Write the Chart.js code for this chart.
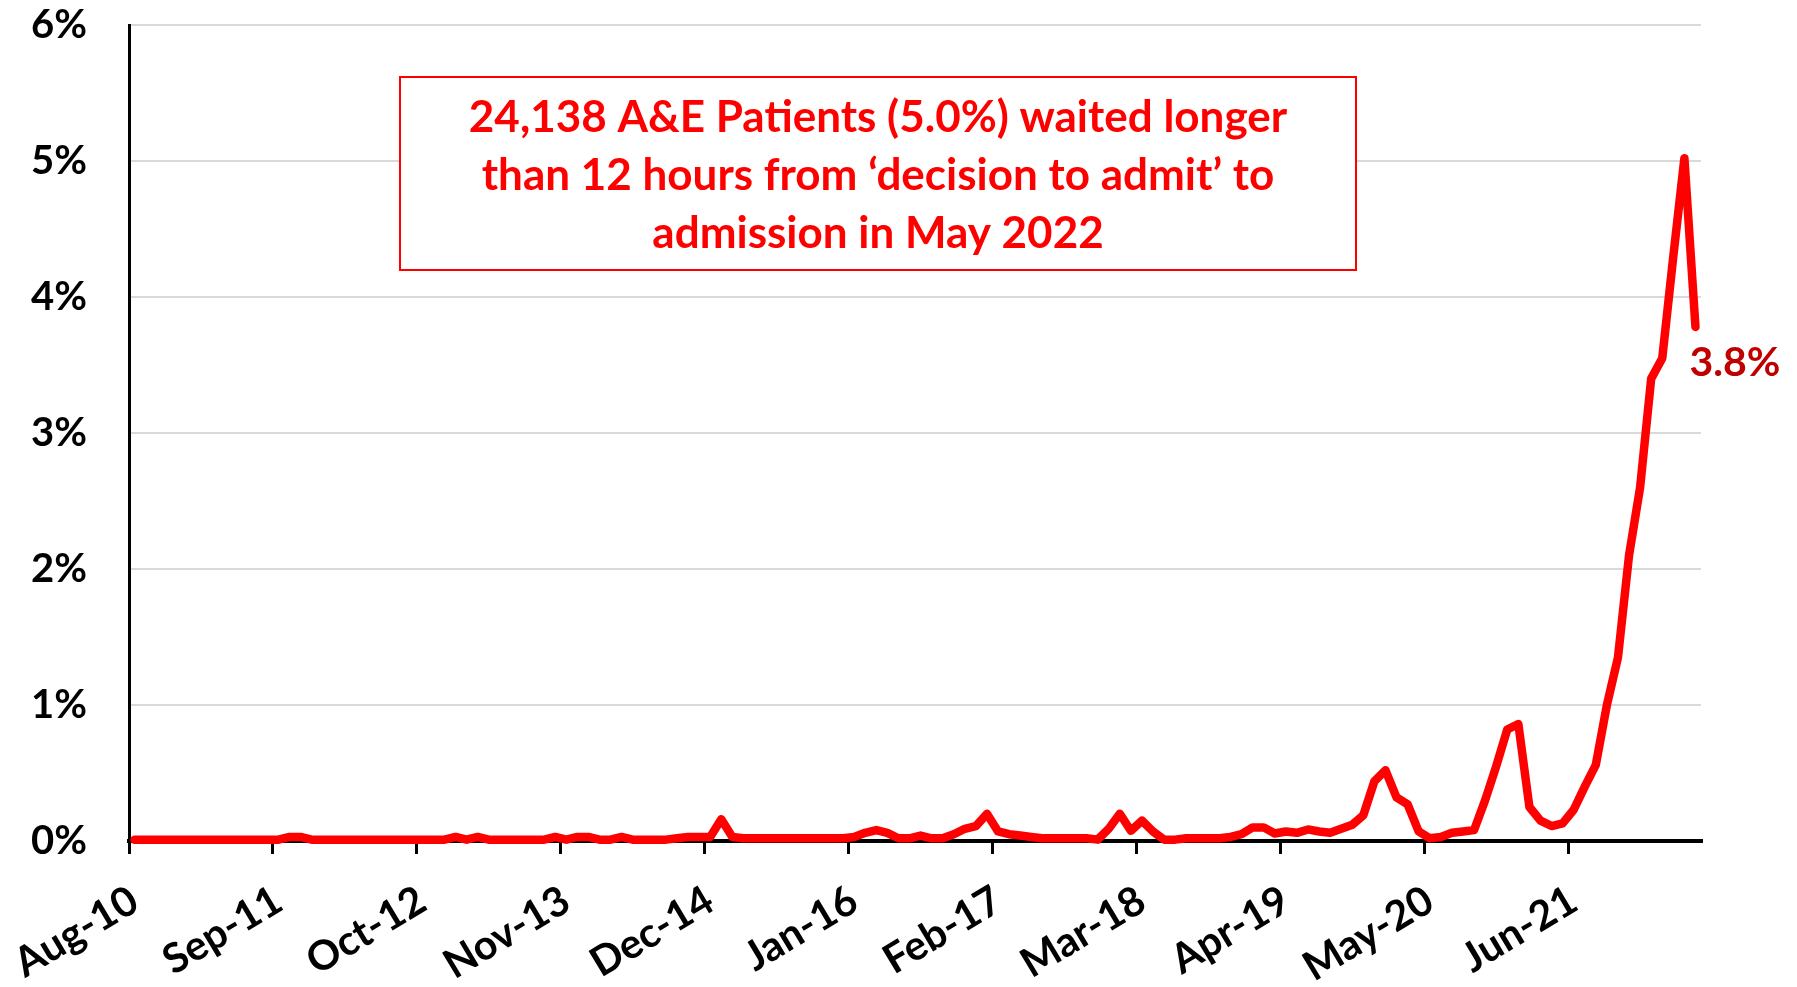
<!DOCTYPE html>
<html>
<head>
<meta charset="utf-8">
<title>12 hour waits from decision to admit</title>
<script src="https://cdn.jsdelivr.net/npm/chart.js@4.4.1/dist/chart.umd.min.js"></script>
<style>
  html, body { margin: 0; padding: 0; background: #fff; }
  canvas { display: block; }
</style>
</head>
<body>
<canvas id="waitChart" width="1797" height="987"></canvas>
<script>
// Months, Aug 2010 to May 2022
const months = [
    'Aug-10', 'Sep-10', 'Oct-10', 'Nov-10', 'Dec-10',
    'Jan-11', 'Feb-11', 'Mar-11', 'Apr-11', 'May-11', 'Jun-11', 'Jul-11', 'Aug-11', 'Sep-11', 'Oct-11', 'Nov-11', 'Dec-11',
    'Jan-12', 'Feb-12', 'Mar-12', 'Apr-12', 'May-12', 'Jun-12', 'Jul-12', 'Aug-12', 'Sep-12', 'Oct-12', 'Nov-12', 'Dec-12',
    'Jan-13', 'Feb-13', 'Mar-13', 'Apr-13', 'May-13', 'Jun-13', 'Jul-13', 'Aug-13', 'Sep-13', 'Oct-13', 'Nov-13', 'Dec-13',
    'Jan-14', 'Feb-14', 'Mar-14', 'Apr-14', 'May-14', 'Jun-14', 'Jul-14', 'Aug-14', 'Sep-14', 'Oct-14', 'Nov-14', 'Dec-14',
    'Jan-15', 'Feb-15', 'Mar-15', 'Apr-15', 'May-15', 'Jun-15', 'Jul-15', 'Aug-15', 'Sep-15', 'Oct-15', 'Nov-15', 'Dec-15',
    'Jan-16', 'Feb-16', 'Mar-16', 'Apr-16', 'May-16', 'Jun-16', 'Jul-16', 'Aug-16', 'Sep-16', 'Oct-16', 'Nov-16', 'Dec-16',
    'Jan-17', 'Feb-17', 'Mar-17', 'Apr-17', 'May-17', 'Jun-17', 'Jul-17', 'Aug-17', 'Sep-17', 'Oct-17', 'Nov-17', 'Dec-17',
    'Jan-18', 'Feb-18', 'Mar-18', 'Apr-18', 'May-18', 'Jun-18', 'Jul-18', 'Aug-18', 'Sep-18', 'Oct-18', 'Nov-18', 'Dec-18',
    'Jan-19', 'Feb-19', 'Mar-19', 'Apr-19', 'May-19', 'Jun-19', 'Jul-19', 'Aug-19', 'Sep-19', 'Oct-19', 'Nov-19', 'Dec-19',
    'Jan-20', 'Feb-20', 'Mar-20', 'Apr-20', 'May-20', 'Jun-20', 'Jul-20', 'Aug-20', 'Sep-20', 'Oct-20', 'Nov-20', 'Dec-20',
    'Jan-21', 'Feb-21', 'Mar-21', 'Apr-21', 'May-21', 'Jun-21', 'Jul-21', 'Aug-21', 'Sep-21', 'Oct-21', 'Nov-21', 'Dec-21',
    'Jan-22', 'Feb-22', 'Mar-22', 'Apr-22', 'May-22'
];

// % of patients waiting > 12 hours from decision to admit
const pctOver12h = [
    0.01, 0.01, 0.01, 0.01, 0.01,
    0.01, 0.01, 0.01, 0.01, 0.01, 0.01, 0.01, 0.01, 0.01, 0.03, 0.03, 0.01,
    0.01, 0.01, 0.01, 0.01, 0.01, 0.01, 0.01, 0.01, 0.01, 0.01, 0.01, 0.01,
    0.03, 0.01, 0.03, 0.01, 0.01, 0.01, 0.01, 0.01, 0.01, 0.03, 0.01, 0.03,
    0.03, 0.01, 0.01, 0.03, 0.01, 0.01, 0.01, 0.01, 0.02, 0.03, 0.03, 0.03,
    0.16, 0.03, 0.02, 0.02, 0.02, 0.02, 0.02, 0.02, 0.02, 0.02, 0.02, 0.02,
    0.03, 0.06, 0.08, 0.06, 0.02, 0.02, 0.04, 0.02, 0.02, 0.05, 0.09, 0.11,
    0.20, 0.07, 0.05, 0.04, 0.03, 0.02, 0.02, 0.02, 0.02, 0.02, 0.01, 0.09,
    0.20, 0.075, 0.15, 0.07, 0.01, 0.01, 0.02, 0.02, 0.02, 0.02, 0.03, 0.05,
    0.10, 0.10, 0.055, 0.07, 0.06, 0.085, 0.07, 0.06, 0.09, 0.12, 0.19, 0.44,
    0.52, 0.32, 0.27, 0.07, 0.02, 0.03, 0.06, 0.07, 0.08, 0.30, 0.55, 0.82,
    0.86, 0.25, 0.15, 0.11, 0.13, 0.23, 0.40, 0.56, 1.00, 1.35, 2.10, 2.60,
    3.40, 3.55, 4.30, 5.02, 3.78
];

// Y axis range in %
const yMin = 0;
const yMax = 6;
const yStep = 1;

// a date label on every 13th month
const labelEvery = 13;

const noteLines = [
    '24,138 A&E Patients (5.0%) waited longer',
    'than 12 hours from \u2018decision to admit\u2019 to',
    'admission in May 2022'
];

const FONT = 'Lato, "Open Sans", sans-serif';

// Red text box in the top middle
const noteBox = {
    id: 'noteBox',
    afterDraw(chart) {
        const ctx = chart.ctx;
        ctx.save();
        ctx.fillStyle = '#fff';
        ctx.fillRect(400, 77, 956, 193);
        ctx.strokeStyle = '#FF0000';
        ctx.lineWidth = 2;
        ctx.strokeRect(400, 77, 956, 193);
        ctx.fillStyle = '#FF0000';
        ctx.font = 'bold 44px ' + FONT;
        ctx.textAlign = 'center';
        ctx.textBaseline = 'alphabetic';
        noteLines.forEach((line, i) => ctx.fillText(line, 878, 132 + i * 58));
        ctx.restore();
    }
};

// Value label next to the last point
const lastLabel = {
    id: 'lastLabel',
    afterDatasetsDraw(chart) {
        const meta = chart.getDatasetMeta(0);
        const pt = meta.data[meta.data.length - 1];
        const value = pctOver12h[pctOver12h.length - 1];
        const ctx = chart.ctx;
        ctx.save();
        ctx.fillStyle = '#C00000';
        ctx.font = 'bold 41px ' + FONT;
        ctx.textAlign = 'left';
        ctx.textBaseline = 'top';
        ctx.fillText(value.toFixed(1) + '%', pt.x - 6, pt.y + 15);
        ctx.restore();
    }
};

const tickMarkColor = ctx => (ctx.index % labelEvery === 0 ? '#000' : 'rgba(0,0,0,0)');

new Chart(document.getElementById('waitChart').getContext('2d'), {
    type: 'line',
    data: {
        labels: months,
        datasets: [{
            data: pctOver12h,
            borderColor: '#FF0000',
            borderWidth: 8.5,
            borderJoinStyle: 'round',
            borderCapStyle: 'round',
            pointRadius: 0,
            tension: 0,
            fill: false,
            clip: false
        }]
    },
    options: {
        responsive: false,
        devicePixelRatio: 1,
        animation: false,
        layout: {
            padding: { top: 25, right: 96, bottom: 0, left: 0 }
        },
        plugins: {
            legend: { display: false },
            tooltip: { enabled: false }
        },
        scales: {
            x: {
                type: 'category',
                offset: true,
                grid: {
                    offset: true,
                    drawOnChartArea: false,
                    drawTicks: true,
                    tickLength: 13,
                    lineWidth: 3,
                    tickWidth: 3,
                    color: tickMarkColor,
                    tickColor: tickMarkColor
                },
                border: { display: true, color: '#000', width: 4 },
                ticks: {
                    autoSkip: false,
                    minRotation: 31,
                    maxRotation: 31,
                    padding: 22,
                    color: '#000',
                    font: { family: FONT, weight: 'bold', size: 41 },
                    callback: (value, index) => (index % labelEvery === 0 ? months[index] : '')
                },
                afterFit(scale) {
                    scale.height = 146;
                    scale.paddingLeft = 0;
                    scale.paddingRight = 0;
                }
            },
            y: {
                min: yMin,
                max: yMax,
                grid: {
                    color: '#D9D9D9',
                    lineWidth: 2,
                    drawTicks: false
                },
                border: { display: true, color: '#000', width: 3 },
                ticks: {
                    stepSize: yStep,
                    padding: 42,
                    color: '#000',
                    font: { family: FONT, weight: 'bold', size: 40 },
                    callback: v => v + '%'
                },
                afterFit(scale) {
                    scale.width = 129;
                    scale.paddingTop = 0;
                    scale.paddingBottom = 0;
                }
            }
        }
    },
    plugins: [noteBox, lastLabel]
});
</script>
</body>
</html>
